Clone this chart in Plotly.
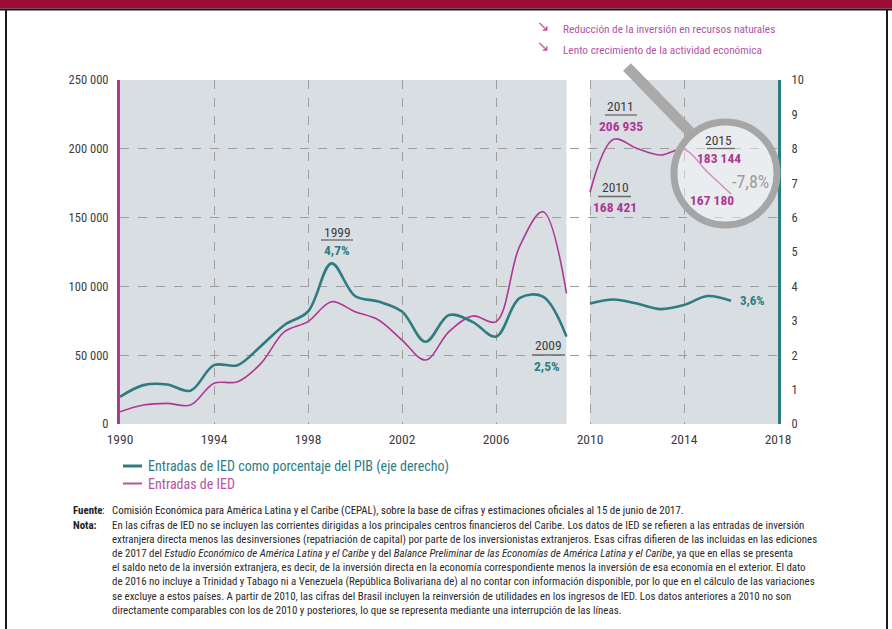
import plotly.graph_objects as go

# ---------------- data ----------------
years_a = list(range(1990, 2010))
years_b = list(range(2010, 2017))
ied_a = [8900, 13800, 15000, 13800, 29600, 30700, 44100, 67100, 74400, 88900,
         81600, 75600, 61000, 46500, 67100, 78500, 74400, 128900, 154300, 95000]
ied_b = [168421, 206935, 200300, 195500, 199600, 183144, 167180]
pct_a = [0.79, 1.13, 1.15, 0.97, 1.71, 1.71, 2.27, 2.88, 3.27, 4.67,
         3.72, 3.56, 3.27, 2.39, 3.17, 2.97, 2.54, 3.66, 3.70, 2.54]
pct_b = [3.50, 3.62, 3.50, 3.34, 3.46, 3.72, 3.58]
y_ticks = [0, 50000, 100000, 150000, 200000, 250000]
y_ticktext = ["0", "50 000", "100 000", "150 000", "200 000", "250 000"]
y2_ticks = list(range(0, 11))
x_ticks = [1990, 1994, 1998, 2002, 2006, 2010, 2014, 2018]

TEAL = "#2e7c80"
MAG = "#ad3893"
MAG_LIGHT = "#b4549f"
GREY_TXT = "#3d3d3d"
FONT = "Liberation Sans Narrow, Roboto Condensed, Arial Narrow, DejaVu Sans Condensed, Roboto, sans-serif"

W, H = 892, 629
L, R, T, B = 120, 778, 80, 424


def px(x):
    return (x - L) / (R - L)


def py(y):
    return (B - y) / (B - T)


fig = go.Figure()
for xs, ys in ((years_a, ied_a), (years_b, ied_b)):
    fig.add_trace(go.Scatter(x=xs, y=ys, mode="lines", line=dict(color=MAG, width=1.6, shape="spline", smoothing=1.0),
                             showlegend=False, hoverinfo="skip"))
for xs, ys in ((years_a, pct_a), (years_b, pct_b)):
    fig.add_trace(go.Scatter(x=xs, y=ys, yaxis="y2", mode="lines",
                             line=dict(color=TEAL, width=2.6, shape="spline", smoothing=1.0),
                             showlegend=False, hoverinfo="skip"))

shapes = []
# gap between 2009 and 2010
shapes.append(dict(type="rect", xref="x", yref="paper", x0=2009, x1=2010, y0=0, y1=1,
                   fillcolor="white", line=dict(width=0), layer="between"))
# header bar and frame
shapes.append(dict(type="rect", xref="paper", yref="paper", x0=px(0), x1=px(W), y0=py(0), y1=py(8.5),
                   fillcolor="#9c0a36", line=dict(width=0), layer="above"))
shapes.append(dict(type="line", xref="paper", yref="paper", x0=px(0), x1=px(W), y0=py(9.5), y1=py(9.5),
                   line=dict(color="#1a1a1a", width=2)))
shapes.append(dict(type="line", xref="paper", yref="paper", x0=px(6), x1=px(6), y0=py(9), y1=py(H),
                   line=dict(color="#1a1a1a", width=2)))
shapes.append(dict(type="line", xref="paper", yref="paper", x0=px(887), x1=px(887), y0=py(9), y1=py(H),
                   line=dict(color="#1a1a1a", width=2)))
# magnifier
shapes.append(dict(type="line", xref="paper", yref="paper", x0=px(627), y0=py(67), x1=px(690), y1=py(132),
                   line=dict(color="#a9a9a9", width=11), layer="above"))
shapes.append(dict(type="circle", xref="paper", yref="paper", x0=px(674), x1=px(777), y0=py(122), y1=py(225),
                   fillcolor="rgba(255,255,255,0.45)", line=dict(color="#a6a6a6", width=7), layer="above"))
# label underlines
for x0, x1, y in ((321, 353, 240), (532, 565, 355), (605, 637, 115), (598, 631, 196.5), (707, 735, 148.5)):
    shapes.append(dict(type="line", xref="paper", yref="paper", x0=px(x0), x1=px(x1), y0=py(y), y1=py(y),
                       line=dict(color="#6a6a6a", width=1.3), layer="above"))
# legend samples
shapes.append(dict(type="line", xref="paper", yref="paper", x0=px(123), x1=px(142), y0=py(466), y1=py(466),
                   line=dict(color=TEAL, width=3)))
shapes.append(dict(type="line", xref="paper", yref="paper", x0=px(123), x1=px(142), y0=py(483.5), y1=py(483.5),
                   line=dict(color=MAG_LIGHT, width=2)))

ann = []


def text(x, y, s, size=11, color=GREY_TXT, xanchor="center", bold=False, family=FONT):
    ann.append(dict(xref="paper", yref="paper", x=px(x), y=py(y), text=("<b>%s</b>" % s) if bold else s,
                    showarrow=False, xanchor=xanchor, yanchor="middle",
                    font=dict(size=size, color=color, family=family)))


# point labels
LBL = 13.5
text(337, 231.5, "1999", LBL)
text(336.5, 250, "4,7%", LBL, TEAL, bold=True)
text(548, 345, "2009", LBL)
text(547, 366, "2,5%", LBL, TEAL, bold=True)
text(620, 106, "2011", LBL)
text(621, 125.5, "206 935", LBL, MAG, bold=True)
text(615, 187, "2010", LBL)
text(615, 206.5, "168 421", LBL, MAG, bold=True)
text(718, 140, "2015", LBL)
text(719, 157.5, "183 144", LBL, MAG, bold=True)
text(712, 199.5, "167 180", LBL, MAG, bold=True)
text(738, 300.5, "3,6%", 13, TEAL, xanchor="left", bold=True)
text(730, 181.5, "-7,8%", 18, "#9c9c9c", xanchor="left")

# top notes
text(535, 26, "↘", 15, MAG_LIGHT, xanchor="left", family="DejaVu Sans")
text(535, 46, "↘", 15, MAG_LIGHT, xanchor="left", family="DejaVu Sans")
text(561, 29.7, "Reducción de la inversión en recursos naturales", 11.3, MAG_LIGHT, xanchor="left")
text(561, 50, "Lento crecimiento de la actividad económica", 11.3, MAG_LIGHT, xanchor="left")

# legend
text(146, 466, "Entradas de IED como porcentaje del PIB (eje derecho)", 14, TEAL, xanchor="left")
text(146, 483.5, "Entradas de IED", 14, MAG_LIGHT, xanchor="left")

# source and notes
NOTE = 10.9
text(71, 510, "Fuente", NOTE, "#222", xanchor="left", bold=True)
text(100, 510, ":", NOTE, "#222", xanchor="left")
text(110, 510, "Comisión Económica para América Latina y el Caribe (CEPAL), sobre la base de cifras y estimaciones oficiales al 15 de junio de 2017.",
     NOTE, "#222", xanchor="left")
text(71, 525, "Nota:", NOTE, "#222", xanchor="left", bold=True)
note_lines = [
    "En las cifras de IED no se incluyen las corrientes dirigidas a los principales centros financieros del Caribe. Los datos de IED se refieren a las entradas de inversión",
    "extranjera directa menos las desinversiones (repatriación de capital) por parte de los inversionistas extranjeros. Esas cifras difieren de las incluidas en las ediciones",
    "de 2017 del <i>Estudio Económico de América Latina y el Caribe</i> y del <i>Balance Preliminar de las Economías de América Latina y el Caribe</i>, ya que en ellas se presenta",
    "el saldo neto de la inversión extranjera, es decir, de la inversión directa en la economía correspondiente menos la inversión de esa economía en el exterior. El dato",
    "de 2016 no incluye a Trinidad y Tabago ni a Venezuela (República Bolivariana de) al no contar con información disponible, por lo que en el cálculo de las variaciones",
    "se excluye a estos países. A partir de 2010, las cifras del Brasil incluyen la reinversión de utilidades en los ingresos de IED. Los datos anteriores a 2010 no son",
    "directamente comparables con los de 2010 y posteriores, lo que se representa mediante una interrupción de las líneas.",
]
for i, line in enumerate(note_lines):
    text(110, 525 + i * 14.2, line, NOTE, "#2a2a2a", xanchor="left")

fig.update_layout(
    width=W, height=H,
    margin=dict(l=L, r=W - R, t=T, b=H - B, autoexpand=False),
    paper_bgcolor="white", plot_bgcolor="#d9dee3",
    showlegend=False,
    font=dict(family=FONT, size=11, color=GREY_TXT),
    xaxis=dict(range=[1990, 2018], tickvals=x_ticks, showgrid=True, gridcolor="#9e9e9e", griddash="dash",
               gridwidth=1, zeroline=False, showline=False, ticks="outside", ticklen=3,
               tickcolor="rgba(0,0,0,0)", tickfont=dict(size=13.5, color=GREY_TXT)),
    yaxis=dict(range=[0, 250000], tickvals=y_ticks, ticktext=y_ticktext, showgrid=True, gridcolor="#9e9e9e",
               griddash="dash", gridwidth=1, zeroline=False, showline=True, linecolor=MAG, linewidth=3,
               ticks="outside", ticklen=6, tickcolor="rgba(0,0,0,0)", tickfont=dict(size=12.5, color=GREY_TXT)),
    yaxis2=dict(range=[0, 10], tickvals=y2_ticks, overlaying="y", side="right", showgrid=False, zeroline=False,
                showline=True, linecolor=TEAL, linewidth=3, ticks="outside", ticklen=8,
                tickcolor="rgba(0,0,0,0)", tickfont=dict(size=12.5, color=GREY_TXT)),
    shapes=shapes, annotations=ann,
)

fig.write_html("out.html", config={"displayModeBar": False},
               post_script="document.body.style.margin='0';")
